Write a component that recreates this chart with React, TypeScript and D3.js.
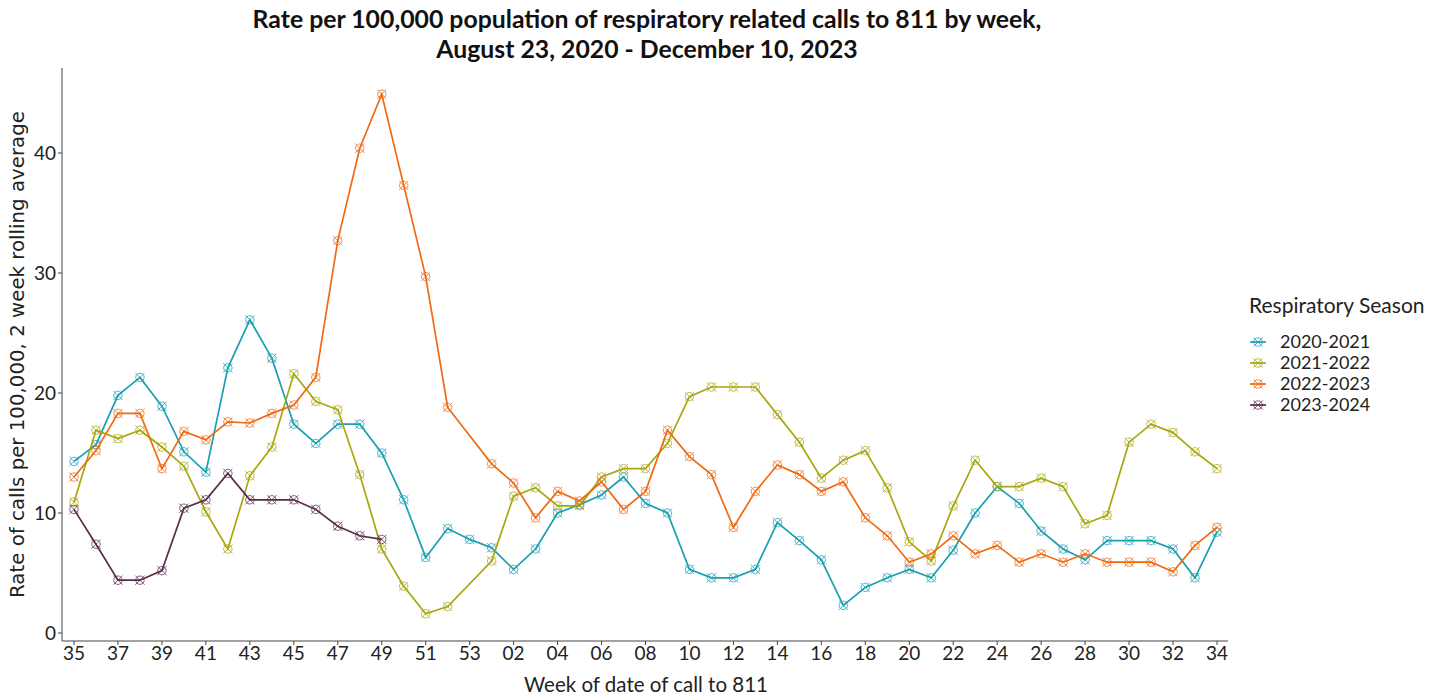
import React from "react";
import * as d3 from "d3";

// week-of-year categories, season runs week 35 -> week 34
const weeks = [
  "35", "36", "37", "38", "39", "40", "41", "42", "43", "44", "45", "46", "47", "48", "49", "50", "51", "52", "53",
  "01", "02", "03", "04", "05", "06", "07", "08", "09", "10", "11", "12", "13", "14", "15", "16", "17",
  "18", "19", "20", "21", "22", "23", "24", "25", "26", "27", "28", "29", "30", "31", "32", "33", "34",
];
const tickLabels = weeks.filter((_, i) => i % 2 === 0);

const seasons = ["2020-2021", "2021-2022", "2022-2023", "2023-2024"];
const colors = ["#1a9fb3", "#a8a70e", "#ef6a12", "#5a2c4b"];

const s2020 = [
  14.3, 15.7, 19.8, 21.3, 18.9, 15.1, 13.4, 22.1, 26.1, 22.9, 17.4, 15.8, 17.4, 17.4, 15.0, 11.1, 6.3, 8.7, 7.8,
  7.1, 5.3, 7.0, 10.0, 10.7, 11.5, 13.0, 10.8, 10.0, 5.3, 4.6, 4.6, 5.3, 9.2, 7.7, 6.1, 2.3,
  3.8, 4.6, 5.3, 4.6, 6.9, 10.0, 12.2, 10.8, 8.5, 7.0, 6.1, 7.7, 7.7, 7.7, 7.0, 4.6, 8.4,
];
const s2021 = [
  10.9, 16.9, 16.2, 16.9, 15.5, 13.9, 10.1, 7.0, 13.1, 15.5, 21.6, 19.3, 18.6, 13.2, 7.0, 3.9, 1.6, 2.2, null,
  6.0, 11.4, 12.1, 10.6, 10.6, 13.0, 13.7, 13.7, 15.8, 19.7, 20.5, 20.5, 20.5, 18.2, 15.9, 12.9, 14.4,
  15.2, 12.1, 7.6, 6.0, 10.6, 14.4, 12.2, 12.2, 12.9, 12.2, 9.1, 9.8, 15.9, 17.4, 16.7, 15.1, 13.7,
];
const s2022 = [
  13.0, 15.2, 18.3, 18.3, 13.7, 16.8, 16.1, 17.6, 17.5, 18.3, 19.0, 21.3, 32.7, 40.4, 44.9, 37.3, 29.7, 18.8, null,
  14.1, 12.5, 9.6, 11.8, 11.0, 12.6, 10.3, 11.8, 16.9, 14.7, 13.2, 8.8, 11.8, 14.0, 13.2, 11.8, 12.6,
  9.6, 8.1, 5.9, 6.6, 8.1, 6.6, 7.3, 5.9, 6.6, 5.9, 6.6, 5.9, 5.9, 5.9, 5.1, 7.3, 8.8,
];
const s2023 = [
  10.3, 7.4, 4.4, 4.4, 5.2, 10.4, 11.1, 13.3, 11.1, 11.1, 11.1, 10.3, 8.9, 8.1, 7.8,
];

const seriesValues = [s2020, s2021, s2022, s2023];

const font = "Lato, 'Noto Sans', sans-serif";

const Marker = ({ x, y, color }: { x: number; y: number; color: string }) => (
  <g transform={`translate(${x},${y})`} stroke={color} fill="none" strokeWidth={0.9} opacity={0.85}>
    <circle r={4.2} />
    <line x1={-4.6} y1={-4.6} x2={4.6} y2={4.6} />
    <line x1={-4.6} y1={4.6} x2={4.6} y2={-4.6} />
  </g>
);

export default function App() {
  const width = 1439;
  const height = 696;
  const axisLeft = 62;
  const axisRight = 1228;
  const axisBottom = 641;
  const axisTop = 68;

  const x = d3.scalePoint<string>().domain(weeks).range([74, 1217]);
  const y = d3.scaleLinear().domain([0, 40]).range([633, 153]);
  const yTicks = [0, 10, 20, 30, 40];

  const line = d3
    .line<{ w: string; v: number }>()
    .x((d) => x(d.w) as number)
    .y((d) => y(d.v));

  const series = seriesValues.map((vals, si) => ({
    name: seasons[si],
    color: colors[si],
    points: vals
      .map((v, i) => ({ w: weeks[i], v: v as number }))
      .filter((d) => d.v !== null && d.v !== undefined),
  }));

  return (
    <svg
      width={width}
      height={height}
      style={{ position: "absolute", left: 0, top: 0, background: "#fff" }}
      fontFamily={font}
    >
      <text x={647} y={28} textAnchor="middle" fontSize={24.8} fontWeight="bold" fill="#111">
        Rate per 100,000 population of respiratory related calls to 811 by week,
      </text>
      <text x={647} y={58} textAnchor="middle" fontSize={24.8} fontWeight="bold" fill="#111">
        August 23, 2020 - December 10, 2023
      </text>

      {/* axes */}
      <line x1={axisLeft} y1={axisTop} x2={axisLeft} y2={axisBottom} stroke="#444" strokeWidth={1} />
      <line x1={axisLeft} y1={axisBottom} x2={axisRight} y2={axisBottom} stroke="#444" strokeWidth={1} />
      {yTicks.map((t) => (
        <g key={t}>
          <line x1={axisLeft - 4} x2={axisLeft} y1={y(t)} y2={y(t)} stroke="#444" />
          <text x={axisLeft - 6} y={y(t)} dy="0.36em" textAnchor="end" fontSize={19} fill="#222">
            {t}
          </text>
        </g>
      ))}
      {tickLabels.map((w) => (
        <g key={w}>
          <line x1={x(w)} x2={x(w)} y1={axisBottom} y2={axisBottom + 4} stroke="#444" />
          <text x={x(w)} y={axisBottom + 19} textAnchor="middle" fontSize={19} fill="#222">
            {w}
          </text>
        </g>
      ))}

      <text x={646} y={692} textAnchor="middle" fontSize={20.5} fill="#222">
        Week of date of call to 811
      </text>
      <text
        transform={`translate(24,${(axisTop + axisBottom) / 2}) rotate(-90)`}
        textAnchor="middle"
        fontSize={19.8}
        fontFamily="'DejaVu Sans', sans-serif"
        fill="#222"
      >
        Rate of calls per 100,000, 2 week rolling average
      </text>

      {/* lines + markers */}
      {series.map((s) => (
        <g key={s.name}>
          <path d={line(s.points) ?? ""} fill="none" stroke={s.color} strokeWidth={1.7} />
          {s.points.map((p) => (
            <Marker key={p.w} x={x(p.w) as number} y={y(p.v)} color={s.color} />
          ))}
        </g>
      ))}

      {/* legend */}
      <g transform="translate(1249,0)">
        <text x={0} y={313} fontSize={21} fill="#222">
          Respiratory Season
        </text>
        {series.map((s, i) => (
          <g key={s.name} transform={`translate(0,${342 + i * 21})`}>
            <line x1={1} x2={17} y1={0} y2={0} stroke={s.color} strokeWidth={1.7} />
            <Marker x={9} y={0} color={s.color} />
            <text x={31} y={0} dy="0.35em" fontSize={18} fill="#222">
              {s.name}
            </text>
          </g>
        ))}
      </g>
    </svg>
  );
}
